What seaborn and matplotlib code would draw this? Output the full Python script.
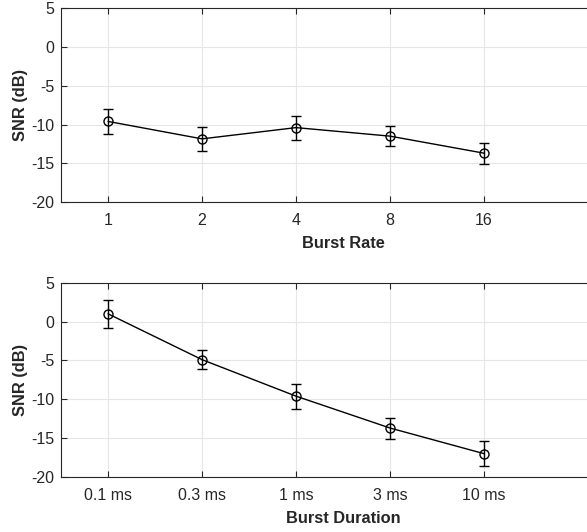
import matplotlib
matplotlib.use("Agg")
import matplotlib.pyplot as plt
import seaborn as sns
import pandas as pd
import numpy as np

# Burst-rate condition
rate_labels = ["1", "2", "4", "8", "16"]
rate_snr = [-9.6, -11.85, -10.4, -11.5, -13.7]
rate_err = [1.6, 1.55, 1.55, 1.3, 1.35]

# Burst-duration condition
dur_labels = ["0.1 ms", "0.3 ms", "1 ms", "3 ms", "10 ms"]
dur_snr = [1.0, -4.9, -9.6, -13.7, -17.0]
dur_err = [1.8, 1.2, 1.6, 1.35, 1.65]

sns.set_theme(style="whitegrid")
plt.rcParams["font.family"] = ["Liberation Sans", "DejaVu Sans"]

fig = plt.figure(figsize=(5.87, 5.32), dpi=100)
ax_top = fig.add_axes([0.1039, 0.6203, 0.961, 0.3641])
ax_bot = fig.add_axes([0.1039, 0.1034, 0.961, 0.3652])

ink = "#262626"


def panel(ax, labels, snr, err, xlabel):
    pos = np.arange(1, len(labels) + 1)
    df = pd.DataFrame({"pos": pos, "snr": snr})
    sns.lineplot(data=df, x="pos", y="snr", ax=ax, color="black", lw=1.0,
                 marker="o", markersize=6.5, markerfacecolor="none",
                 markeredgecolor="black", markeredgewidth=1.0, zorder=3)
    ax.errorbar(pos, snr, yerr=err, fmt="none", ecolor="black",
                elinewidth=1.0, capsize=3.5, capthick=1.0, zorder=3)
    ax.set_xlim(0.5, 6.5)
    ax.set_ylim(-20, 5)
    ax.set_xticks(pos)
    ax.set_xticklabels(labels)
    ax.set_yticks([-20, -15, -10, -5, 0, 5])
    ax.set_yticklabels(["-20", "-15", "-10", "-5", "0", "5"])
    ax.set_xlabel(xlabel, fontsize=11.8, fontweight="bold", color=ink, labelpad=6)
    ax.set_ylabel("SNR (dB)", fontsize=11.8, fontweight="bold", color=ink, labelpad=2)
    ax.grid(True, color="#e6e6e6", lw=0.8)
    ax.set_facecolor("white")
    for side in ["left", "bottom", "top", "right"]:
        ax.spines[side].set_visible(True)
        ax.spines[side].set_color(ink)
        ax.spines[side].set_linewidth(0.8)
    ax.tick_params(axis="both", direction="in", length=4, width=0.8,
                   colors=ink, labelsize=11.5, top=True, right=True,
                   bottom=True, left=True)
    ax.tick_params(axis="x", pad=8)
    ax.tick_params(axis="y", pad=5)


panel(ax_top, rate_labels, rate_snr, rate_err, "Burst Rate")
panel(ax_bot, dur_labels, dur_snr, dur_err, "Burst Duration")

fig.savefig("out.png", dpi=100, facecolor="white")
